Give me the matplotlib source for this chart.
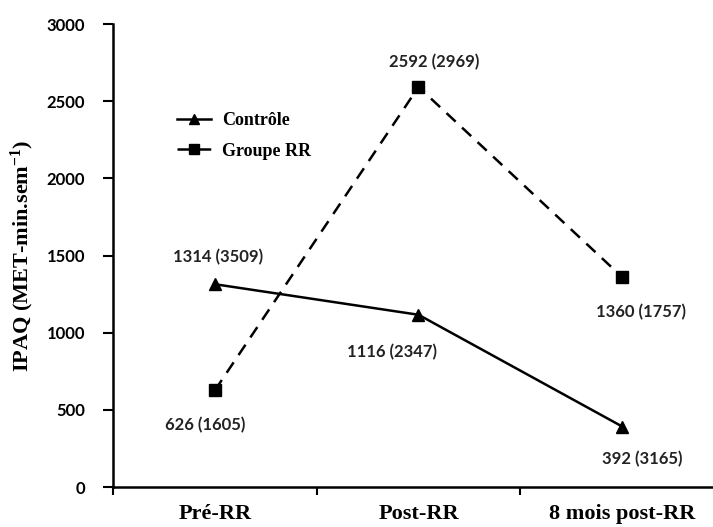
import matplotlib
matplotlib.use("Agg")
import matplotlib.pyplot as plt
from matplotlib.ticker import FixedLocator

# data
categories = ["Pré-RR", "Post-RR", "8 mois post-RR"]
controle = [1314, 1116, 392]
groupe_rr = [626, 2592, 1360]
controle_labels = ["1314 (3509)", "1116 (2347)", "392 (3165)"]
groupe_rr_labels = ["626 (1605)", "2592 (2969)", "1360 (1757)"]

serif = "Liberation Serif"
sans = "Lato"
plt.rcParams["mathtext.fontset"] = "custom"
plt.rcParams["mathtext.rm"] = "Liberation Serif:bold"
plt.rcParams["mathtext.default"] = "rm"

fig = plt.figure(figsize=(7.13, 5.27), dpi=100)
W, H = 713, 527
ax = fig.add_axes([113 / W, 1 - 487 / H, (724 - 113) / W, (487 - 24) / H])

x = list(range(len(categories)))
ax.plot(x, controle, color="black", linewidth=1.8, marker="^", markersize=9,
        label="Contrôle")
ax.plot(x, groupe_rr, color="black", linewidth=1.8, linestyle=(0, (5, 3.5)),
        marker="s", markersize=8, label="Groupe RR")

# value labels (offsets in pixels)
ctrl_off = [(3, 27), (-26, -37), (20, -33)]
rr_off = [(-10, -35), (16, 25), (19, -35)]
for i in x:
    ax.annotate(controle_labels[i], (i, controle[i]), xytext=ctrl_off[i],
                textcoords="offset pixels", ha="center", va="center",
                fontsize=12, fontweight="bold", family=sans, color="#222222")
    ax.annotate(groupe_rr_labels[i], (i, groupe_rr[i]), xytext=rr_off[i],
                textcoords="offset pixels", ha="center", va="center",
                fontsize=12, fontweight="bold", family=sans, color="#222222")

ax.set_xlim(-0.5, 2.5)
ax.set_ylim(0, 3000)
ax.set_yticks(range(0, 3001, 500))
ax.set_xticks(x)
ax.set_xticklabels(categories, fontsize=16, fontweight="bold", family=serif)
ax.xaxis.set_minor_locator(FixedLocator([-0.5, 0.5, 1.5]))
ax.tick_params(axis="x", which="major", length=0, pad=12)
ax.tick_params(axis="x", which="minor", length=6, width=1.5, direction="out")
ax.tick_params(axis="y", length=7, width=1.5, pad=13, labelsize=12)
for lab in ax.get_yticklabels():
    lab.set_family(sans)
    lab.set_fontweight("bold")

for side in ["top", "right"]:
    ax.spines[side].set_visible(False)
for side in ["left", "bottom"]:
    ax.spines[side].set_linewidth(1.8)

ax.set_ylabel("IPAQ (MET-min.sem$^{-1}$)", fontsize=16, fontweight="bold",
              family=serif, labelpad=8)

leg = ax.legend(loc="upper left", bbox_to_anchor=(0.105, 0.81), frameon=False,
                prop={"family": serif, "weight": "bold", "size": 13},
                handlelength=1.9, handletextpad=0.6, labelspacing=0.75,
                borderpad=0, borderaxespad=0)
for h in leg.legend_handles:
    h.set_markersize(7)

fig.savefig("out.png", dpi=100)
